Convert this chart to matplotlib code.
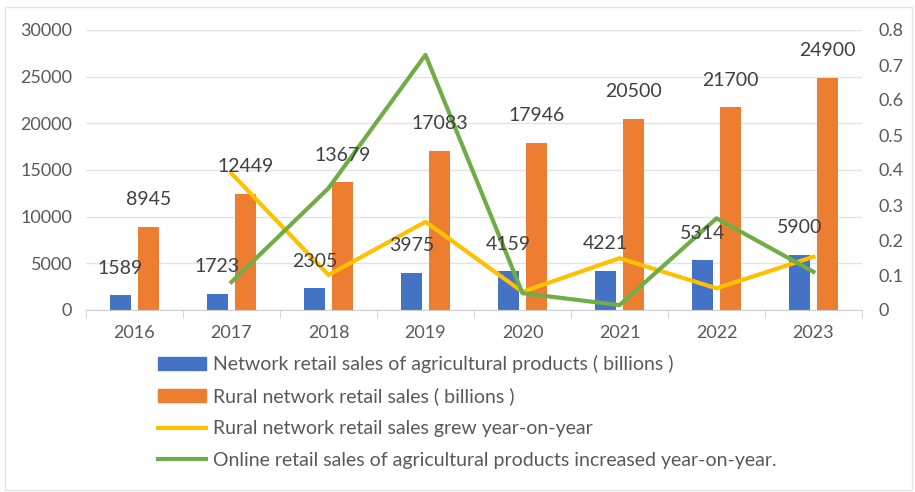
import matplotlib.pyplot as plt
import matplotlib.patches as mpatches
from matplotlib.lines import Line2D
import numpy as np

years = ["2016", "2017", "2018", "2019", "2020", "2021", "2022", "2023"]
agri_sales = [1589, 1723, 2305, 3975, 4159, 4221, 5314, 5900]
rural_sales = [8945, 12449, 13679, 17083, 17946, 20500, 21700, 24900]
# growth rates start in 2017
rural_growth = [0.39, 0.10, 0.252, 0.052, 0.148, 0.062, 0.152]
agri_growth = [0.08, 0.348, 0.729, 0.048, 0.014, 0.262, 0.109]

legend_labels = [
    "Network retail sales of agricultural products ( billions )",
    "Rural network retail sales ( billions )",
    "Rural network retail sales grew year-on-year",
    "Online retail sales of agricultural products increased year-on-year.",
]

blue = "#4472C4"
orange = "#ED7D31"
yellow = "#FFC000"
green = "#70AD47"
txt = "#595959"

plt.rcParams['font.family'] = ['Lato', 'DejaVu Sans']

fig = plt.figure(figsize=(9.15, 4.92), dpi=100)
ax = fig.add_axes([86/915, 1-310/492, (862-86)/915, 280/492])

x = np.arange(len(years))
w = 0.22
off = 0.145
ax.bar(x - off, agri_sales, w, color=blue, zorder=2)
ax.bar(x + off, rural_sales, w, color=orange, zorder=2)

ax.set_xlim(-0.5, len(years) - 0.5)
ax.set_ylim(0, 30000)
ax.set_yticks(range(0, 30001, 5000))
ax.grid(axis='y', color="#e3e3e3", linewidth=1, zorder=0)
ax.set_axisbelow(True)
for s in ["top", "right", "left"]:
    ax.spines[s].set_visible(False)
ax.spines["bottom"].set_color("#d0d0d0")
ax.set_xticks(x)
ax.set_xticklabels(years)
ax.set_xticks(np.arange(-0.5, len(years)), minor=True)
ax.tick_params(axis='x', which='major', length=0, pad=11, labelsize=13, labelcolor=txt)
ax.tick_params(axis='x', which='minor', length=6, color="#d0d0d0")
ax.tick_params(axis='y', length=0, pad=10, labelsize=13, labelcolor=txt)

ax2 = ax.twinx()
ax2.plot(x[1:], rural_growth, color=yellow, linewidth=3, zorder=3)
ax2.plot(x[1:], agri_growth, color=green, linewidth=3, zorder=3)
ax2.set_ylim(0, 0.8)
ax2.set_yticks(np.arange(0, 0.81, 0.1))
ax2.set_yticklabels(["0"] + [f"{v:.1f}" for v in np.arange(0.1, 0.81, 0.1)])
for s in ["top", "right", "left", "bottom"]:
    ax2.spines[s].set_visible(False)
ax2.tick_params(axis='y', length=0, pad=12, labelsize=13, labelcolor=txt)

# data labels drawn on the top axes so they sit above the lines
for i in range(len(years)):
    ax2.annotate(str(agri_sales[i]), (x[i] - off, agri_sales[i]), xycoords=ax.transData, xytext=(0, 19.5),
                 textcoords='offset points', ha='center', va='center', fontsize=14, color="#404040", zorder=5)
    ax2.annotate(str(rural_sales[i]), (x[i] + off, rural_sales[i]), xycoords=ax.transData, xytext=(0, 19.5),
                 textcoords='offset points', ha='center', va='center', fontsize=14, color="#404040", zorder=5)

handles = [
    mpatches.Patch(color=blue),
    mpatches.Patch(color=orange),
    Line2D([], [], color=yellow, linewidth=3),
    Line2D([], [], color=green, linewidth=3),
]
fig.legend(handles, legend_labels, loc='upper left', bbox_to_anchor=(150/915, 1-347/492),
           frameon=False, fontsize=14, labelcolor=txt, handlelength=2.47, handleheight=0.65,
           handletextpad=0.36, labelspacing=0.76, borderaxespad=0)

fig.patches.append(mpatches.Rectangle((5/915, 1-490/492), 907/915, 483/492, transform=fig.transFigure,
                                      fill=False, edgecolor="#e3e3e3", linewidth=1))

fig.savefig("out.png", dpi=100)
